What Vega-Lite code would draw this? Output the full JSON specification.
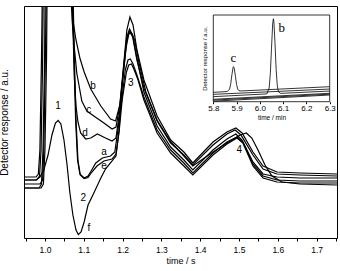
{
  "$schema": "https://vega.github.io/schema/vega-lite/v6.json",
  "width": 313,
  "height": 232,
  "autosize": {"type": "none"},
  "padding": {"left": 24, "top": 6, "right": 3, "bottom": 33},
  "config": {
    "font": "Liberation Sans",
    "view": {"stroke": "black", "strokeWidth": 1},
    "axis": {
      "grid": false,
      "labelColor": "black",
      "tickColor": "black",
      "domainColor": "black",
      "titleColor": "black",
      "titleFontWeight": "normal",
      "labelOverlap": false
    }
  },
  "datasets": {
    "traces": [
      {"run": "b", "t": 0.946, "r": 61}, {"run": "b", "t": 0.977, "r": 61}, {"run": "b", "t": 0.983, "r": 64}, {"run": "b", "t": 0.987, "r": 88}, {"run": "b", "t": 0.991, "r": 178}, {"run": "b", "t": 0.994, "r": 268}, {"run": "b", "t": 1.067, "r": 268}, {"run": "b", "t": 1.072, "r": 218}, {"run": "b", "t": 1.080, "r": 198}, {"run": "b", "t": 1.090, "r": 180}, {"run": "b", "t": 1.101, "r": 166}, {"run": "b", "t": 1.118, "r": 149}, {"run": "b", "t": 1.144, "r": 132}, {"run": "b", "t": 1.169, "r": 119}, {"run": "b", "t": 1.182, "r": 117}, {"run": "b", "t": 1.193, "r": 133}, {"run": "b", "t": 1.204, "r": 178}, {"run": "b", "t": 1.211, "r": 208}, {"run": "b", "t": 1.219, "r": 221}, {"run": "b", "t": 1.227, "r": 213}, {"run": "b", "t": 1.237, "r": 188}, {"run": "b", "t": 1.255, "r": 158}, {"run": "b", "t": 1.289, "r": 122}, {"run": "b", "t": 1.324, "r": 98}, {"run": "b", "t": 1.358, "r": 86}, {"run": "b", "t": 1.381, "r": 75}, {"run": "b", "t": 1.433, "r": 96}, {"run": "b", "t": 1.469, "r": 106}, {"run": "b", "t": 1.492, "r": 110}, {"run": "b", "t": 1.508, "r": 105}, {"run": "b", "t": 1.536, "r": 86}, {"run": "b", "t": 1.562, "r": 72}, {"run": "b", "t": 1.598, "r": 66}, {"run": "b", "t": 1.657, "r": 65}, {"run": "b", "t": 1.753, "r": 64},
      {"run": "c", "t": 0.946, "r": 58}, {"run": "c", "t": 0.979, "r": 58}, {"run": "c", "t": 0.986, "r": 62}, {"run": "c", "t": 0.990, "r": 88}, {"run": "c", "t": 0.994, "r": 178}, {"run": "c", "t": 0.996, "r": 268}, {"run": "c", "t": 1.064, "r": 268}, {"run": "c", "t": 1.070, "r": 218}, {"run": "c", "t": 1.075, "r": 193}, {"run": "c", "t": 1.082, "r": 165}, {"run": "c", "t": 1.095, "r": 137}, {"run": "c", "t": 1.108, "r": 127}, {"run": "c", "t": 1.126, "r": 122}, {"run": "c", "t": 1.152, "r": 115}, {"run": "c", "t": 1.173, "r": 109}, {"run": "c", "t": 1.183, "r": 111}, {"run": "c", "t": 1.193, "r": 133}, {"run": "c", "t": 1.204, "r": 173}, {"run": "c", "t": 1.211, "r": 198}, {"run": "c", "t": 1.218, "r": 207}, {"run": "c", "t": 1.226, "r": 201}, {"run": "c", "t": 1.237, "r": 178}, {"run": "c", "t": 1.255, "r": 150}, {"run": "c", "t": 1.289, "r": 117}, {"run": "c", "t": 1.324, "r": 95}, {"run": "c", "t": 1.358, "r": 83}, {"run": "c", "t": 1.381, "r": 73}, {"run": "c", "t": 1.433, "r": 93}, {"run": "c", "t": 1.469, "r": 104}, {"run": "c", "t": 1.490, "r": 108}, {"run": "c", "t": 1.505, "r": 103}, {"run": "c", "t": 1.536, "r": 83}, {"run": "c", "t": 1.562, "r": 69}, {"run": "c", "t": 1.598, "r": 64}, {"run": "c", "t": 1.657, "r": 63}, {"run": "c", "t": 1.753, "r": 62},
      {"run": "d", "t": 0.946, "r": 50}, {"run": "d", "t": 0.985, "r": 50}, {"run": "d", "t": 0.991, "r": 54}, {"run": "d", "t": 0.995, "r": 88}, {"run": "d", "t": 0.999, "r": 178}, {"run": "d", "t": 1.001, "r": 268}, {"run": "d", "t": 1.068, "r": 268}, {"run": "d", "t": 1.073, "r": 198}, {"run": "d", "t": 1.076, "r": 158}, {"run": "d", "t": 1.080, "r": 132}, {"run": "d", "t": 1.085, "r": 116}, {"run": "d", "t": 1.092, "r": 105}, {"run": "d", "t": 1.105, "r": 99}, {"run": "d", "t": 1.118, "r": 100}, {"run": "d", "t": 1.135, "r": 104}, {"run": "d", "t": 1.156, "r": 100}, {"run": "d", "t": 1.173, "r": 97}, {"run": "d", "t": 1.183, "r": 100}, {"run": "d", "t": 1.193, "r": 128}, {"run": "d", "t": 1.204, "r": 176}, {"run": "d", "t": 1.211, "r": 201}, {"run": "d", "t": 1.218, "r": 209}, {"run": "d", "t": 1.226, "r": 203}, {"run": "d", "t": 1.237, "r": 180}, {"run": "d", "t": 1.255, "r": 146}, {"run": "d", "t": 1.289, "r": 112}, {"run": "d", "t": 1.324, "r": 91}, {"run": "d", "t": 1.358, "r": 78}, {"run": "d", "t": 1.381, "r": 68}, {"run": "d", "t": 1.433, "r": 88}, {"run": "d", "t": 1.469, "r": 99}, {"run": "d", "t": 1.492, "r": 104}, {"run": "d", "t": 1.508, "r": 98}, {"run": "d", "t": 1.536, "r": 76}, {"run": "d", "t": 1.562, "r": 64}, {"run": "d", "t": 1.598, "r": 61}, {"run": "d", "t": 1.657, "r": 60}, {"run": "d", "t": 1.753, "r": 60},
      {"run": "a", "t": 0.946, "r": 54}, {"run": "a", "t": 0.987, "r": 54}, {"run": "a", "t": 0.994, "r": 58}, {"run": "a", "t": 0.997, "r": 88}, {"run": "a", "t": 1.001, "r": 178}, {"run": "a", "t": 1.004, "r": 268}, {"run": "a", "t": 1.070, "r": 268}, {"run": "a", "t": 1.075, "r": 178}, {"run": "a", "t": 1.079, "r": 118}, {"run": "a", "t": 1.084, "r": 78}, {"run": "a", "t": 1.090, "r": 64}, {"run": "a", "t": 1.101, "r": 60}, {"run": "a", "t": 1.111, "r": 62}, {"run": "a", "t": 1.119, "r": 67}, {"run": "a", "t": 1.131, "r": 75}, {"run": "a", "t": 1.148, "r": 80}, {"run": "a", "t": 1.169, "r": 82}, {"run": "a", "t": 1.180, "r": 86}, {"run": "a", "t": 1.188, "r": 108}, {"run": "a", "t": 1.198, "r": 138}, {"run": "a", "t": 1.207, "r": 168}, {"run": "a", "t": 1.214, "r": 178}, {"run": "a", "t": 1.220, "r": 179}, {"run": "a", "t": 1.227, "r": 174}, {"run": "a", "t": 1.237, "r": 163}, {"run": "a", "t": 1.255, "r": 141}, {"run": "a", "t": 1.289, "r": 108}, {"run": "a", "t": 1.324, "r": 88}, {"run": "a", "t": 1.358, "r": 75}, {"run": "a", "t": 1.381, "r": 65}, {"run": "a", "t": 1.433, "r": 85}, {"run": "a", "t": 1.469, "r": 96}, {"run": "a", "t": 1.495, "r": 101}, {"run": "a", "t": 1.510, "r": 96}, {"run": "a", "t": 1.536, "r": 74}, {"run": "a", "t": 1.562, "r": 62}, {"run": "a", "t": 1.598, "r": 58}, {"run": "a", "t": 1.657, "r": 57}, {"run": "a", "t": 1.753, "r": 57},
      {"run": "e", "t": 0.946, "r": 50}, {"run": "e", "t": 0.990, "r": 50}, {"run": "e", "t": 0.996, "r": 54}, {"run": "e", "t": 1.000, "r": 88}, {"run": "e", "t": 1.004, "r": 178}, {"run": "e", "t": 1.006, "r": 268}, {"run": "e", "t": 1.071, "r": 268}, {"run": "e", "t": 1.076, "r": 178}, {"run": "e", "t": 1.080, "r": 118}, {"run": "e", "t": 1.085, "r": 78}, {"run": "e", "t": 1.091, "r": 63}, {"run": "e", "t": 1.101, "r": 59.5}, {"run": "e", "t": 1.111, "r": 60.5}, {"run": "e", "t": 1.121, "r": 66}, {"run": "e", "t": 1.134, "r": 72}, {"run": "e", "t": 1.152, "r": 77}, {"run": "e", "t": 1.173, "r": 79}, {"run": "e", "t": 1.183, "r": 84}, {"run": "e", "t": 1.191, "r": 106}, {"run": "e", "t": 1.199, "r": 138}, {"run": "e", "t": 1.210, "r": 166}, {"run": "e", "t": 1.216, "r": 173}, {"run": "e", "t": 1.223, "r": 174}, {"run": "e", "t": 1.229, "r": 169}, {"run": "e", "t": 1.240, "r": 158}, {"run": "e", "t": 1.255, "r": 138}, {"run": "e", "t": 1.289, "r": 105}, {"run": "e", "t": 1.324, "r": 85}, {"run": "e", "t": 1.358, "r": 72}, {"run": "e", "t": 1.381, "r": 63}, {"run": "e", "t": 1.433, "r": 83}, {"run": "e", "t": 1.469, "r": 94}, {"run": "e", "t": 1.495, "r": 100}, {"run": "e", "t": 1.510, "r": 95}, {"run": "e", "t": 1.536, "r": 72}, {"run": "e", "t": 1.562, "r": 60}, {"run": "e", "t": 1.598, "r": 56}, {"run": "e", "t": 1.657, "r": 55}, {"run": "e", "t": 1.753, "r": 55},
      {"run": "f", "t": 0.946, "r": 58}, {"run": "f", "t": 0.977, "r": 58}, {"run": "f", "t": 0.987, "r": 61}, {"run": "f", "t": 0.997, "r": 68}, {"run": "f", "t": 1.008, "r": 83}, {"run": "f", "t": 1.018, "r": 103}, {"run": "f", "t": 1.027, "r": 115}, {"run": "f", "t": 1.034, "r": 117.5}, {"run": "f", "t": 1.041, "r": 114}, {"run": "f", "t": 1.049, "r": 98}, {"run": "f", "t": 1.057, "r": 73}, {"run": "f", "t": 1.064, "r": 46}, {"run": "f", "t": 1.072, "r": 23}, {"run": "f", "t": 1.080, "r": 8}, {"run": "f", "t": 1.086, "r": 3.5}, {"run": "f", "t": 1.093, "r": 6}, {"run": "f", "t": 1.101, "r": 16}, {"run": "f", "t": 1.111, "r": 33}, {"run": "f", "t": 1.126, "r": 45}, {"run": "f", "t": 1.144, "r": 60}, {"run": "f", "t": 1.156, "r": 69}, {"run": "f", "t": 1.173, "r": 77}, {"run": "f", "t": 1.183, "r": 82}, {"run": "f", "t": 1.191, "r": 108}, {"run": "f", "t": 1.199, "r": 153}, {"run": "f", "t": 1.209, "r": 190}, {"run": "f", "t": 1.216, "r": 204}, {"run": "f", "t": 1.223, "r": 205}, {"run": "f", "t": 1.231, "r": 198}, {"run": "f", "t": 1.242, "r": 176}, {"run": "f", "t": 1.260, "r": 146}, {"run": "f", "t": 1.289, "r": 118}, {"run": "f", "t": 1.324, "r": 96}, {"run": "f", "t": 1.358, "r": 82}, {"run": "f", "t": 1.381, "r": 72}, {"run": "f", "t": 1.433, "r": 86}, {"run": "f", "t": 1.469, "r": 95}, {"run": "f", "t": 1.503, "r": 103}, {"run": "f", "t": 1.519, "r": 105}, {"run": "f", "t": 1.533, "r": 100}, {"run": "f", "t": 1.549, "r": 88}, {"run": "f", "t": 1.567, "r": 73}, {"run": "f", "t": 1.585, "r": 62}, {"run": "f", "t": 1.611, "r": 56}, {"run": "f", "t": 1.657, "r": 54}, {"run": "f", "t": 1.753, "r": 53}
    ],
    "tags": [
      {"label": "1", "t": 1.034, "r": 132},
      {"label": "2", "t": 1.099, "r": 40},
      {"label": "3", "t": 1.221, "r": 155},
      {"label": "4", "t": 1.501, "r": 88},
      {"label": "b", "t": 1.124, "r": 152},
      {"label": "c", "t": 1.113, "r": 128},
      {"label": "d", "t": 1.103, "r": 105},
      {"label": "a", "t": 1.152, "r": 86},
      {"label": "e", "t": 1.152, "r": 72},
      {"label": "f", "t": 1.113, "r": 10}
    ],
    "zoomBox": [{"m0": 5.8, "m1": 6.3, "s0": 0, "s1": 100}],
    "zoomTraces": [
      {"run": "b", "m": 5.8, "s": 5.8}, {"run": "b", "m": 6.03, "s": 9.0}, {"run": "b", "m": 6.04, "s": 15.8}, {"run": "b", "m": 6.045, "s": 32.4}, {"run": "b", "m": 6.05, "s": 61.8}, {"run": "b", "m": 6.055, "s": 89.5}, {"run": "b", "m": 6.058, "s": 95.7}, {"run": "b", "m": 6.06, "s": 93.1}, {"run": "b", "m": 6.065, "s": 68.0}, {"run": "b", "m": 6.07, "s": 37.0}, {"run": "b", "m": 6.075, "s": 18.1}, {"run": "b", "m": 6.08, "s": 11.4}, {"run": "b", "m": 6.09, "s": 9.6}, {"run": "b", "m": 6.3, "s": 12.3},
      {"run": "c", "m": 5.8, "s": 10.8}, {"run": "c", "m": 5.86, "s": 11.7}, {"run": "c", "m": 5.87, "s": 14.6}, {"run": "c", "m": 5.875, "s": 21.0}, {"run": "c", "m": 5.88, "s": 31.3}, {"run": "c", "m": 5.885, "s": 39.6}, {"run": "c", "m": 5.887, "s": 40.4}, {"run": "c", "m": 5.89, "s": 38.6}, {"run": "c", "m": 5.895, "s": 29.4}, {"run": "c", "m": 5.9, "s": 19.8}, {"run": "c", "m": 5.905, "s": 14.5}, {"run": "c", "m": 5.91, "s": 12.7}, {"run": "c", "m": 5.92, "s": 12.4}, {"run": "c", "m": 6.3, "s": 17.3},
      {"run": "a", "m": 5.8, "s": 8.5}, {"run": "a", "m": 6.3, "s": 14.6},
      {"run": "d", "m": 5.8, "s": 2.8}, {"run": "d", "m": 6.3, "s": 9.7},
      {"run": "e", "m": 5.8, "s": 0.6}, {"run": "e", "m": 6.3, "s": 7.7},
      {"run": "f", "m": 5.8, "s": 1.8}, {"run": "f", "m": 6.3, "s": 8.7}
    ],
    "zoomTags": [
      {"label": "c", "m": 5.886, "s": 50},
      {"label": "b", "m": 6.094, "s": 84.7}
    ]
  },
  "layer": [
    {
      "layer": [
        {
          "data": {"name": "traces"},
          "mark": {"type": "line", "color": "black", "strokeWidth": 1.2, "clip": true},
          "encoding": {
            "x": {
              "field": "t", "type": "quantitative",
              "scale": {"domain": [0.946, 1.7526], "nice": false, "zero": false},
              "axis": {
                "orient": "bottom",
                "title": "time / s",
                "titleFontSize": 9,
                "titlePadding": 3,
                "values": [0.95, 1.0, 1.05, 1.1, 1.15, 1.2, 1.25, 1.3, 1.35, 1.4, 1.45, 1.5, 1.55, 1.6, 1.65, 1.7, 1.75],
                "tickCount": 40,
                "labelExpr": "abs(datum.value * 10 - round(datum.value * 10)) < 0.01 ? format(datum.value, '.1f') : ''",
                "labelFontSize": 8.5,
                "labelPadding": 4,
                "labelOverlap": false,
                "tickSize": 3,
                "domain": false
              }
            },
            "y": {
              "field": "r", "type": "quantitative",
              "scale": {"domain": [0, 232], "nice": false, "zero": false},
              "axis": {
                "orient": "left",
                "title": "Detector response / a.u.",
                "titleFontSize": 10,
                "titlePadding": 15,
                "labels": false,
                "ticks": false,
                "domain": false
              }
            },
            "detail": {"field": "run"}
          }
        },
        {
          "data": {"name": "tags"},
          "mark": {"type": "text", "fontSize": 10, "color": "black", "align": "center", "baseline": "middle"},
          "encoding": {
            "x": {"field": "t", "type": "quantitative"},
            "y": {"field": "r", "type": "quantitative"},
            "text": {"field": "label"}
          }
        }
      ]
    },
    {
      "layer": [
        {
          "data": {"name": "zoomBox"},
          "mark": {"type": "rect", "fill": "white", "stroke": "black", "strokeWidth": 0.8},
          "encoding": {
            "x": {
              "field": "m0", "type": "quantitative",
              "scale": {"domain": [5.8, 6.3], "range": [189.3, 305.7], "nice": false, "zero": false},
              "axis": {
                "orient": "bottom",
                "offset": -136.3,
                "title": "time / min",
                "titleFontSize": 6.5,
                "titlePadding": 2,
                "values": [5.8, 5.9, 6.0, 6.1, 6.2, 6.3],
                "tickCount": 10,
                "format": ".1f",
                "labelFontSize": 8,
                "labelPadding": 1,
                "labelFlush": false,
                "tickSize": 2,
                "domain": false
              }
            },
            "x2": {"field": "m1"},
            "y": {
              "field": "s0", "type": "quantitative",
              "scale": {"domain": [0, 100], "range": [95.7, 9], "nice": false, "zero": false},
              "axis": {
                "orient": "left",
                "offset": -189.3,
                "title": "Detector response / a.u.",
                "titleFontSize": 6,
                "titlePadding": 6,
                "labels": false,
                "ticks": false,
                "domain": false
              }
            },
            "y2": {"field": "s1"}
          }
        },
        {
          "data": {"name": "zoomTraces"},
          "mark": {"type": "line", "color": "black", "strokeWidth": 0.8, "clip": false},
          "encoding": {
            "x": {"field": "m", "type": "quantitative"},
            "y": {"field": "s", "type": "quantitative"},
            "detail": {"field": "run"}
          }
        },
        {
          "data": {"name": "zoomTags"},
          "mark": {"type": "text", "font": "Liberation Serif", "fontSize": 13, "color": "black", "align": "center", "baseline": "middle"},
          "encoding": {
            "x": {"field": "m", "type": "quantitative"},
            "y": {"field": "s", "type": "quantitative"},
            "text": {"field": "label"}
          }
        }
      ]
    }
  ],
  "resolve": {
    "scale": {"x": "independent", "y": "independent"},
    "axis": {"x": "independent", "y": "independent"}
  }
}
